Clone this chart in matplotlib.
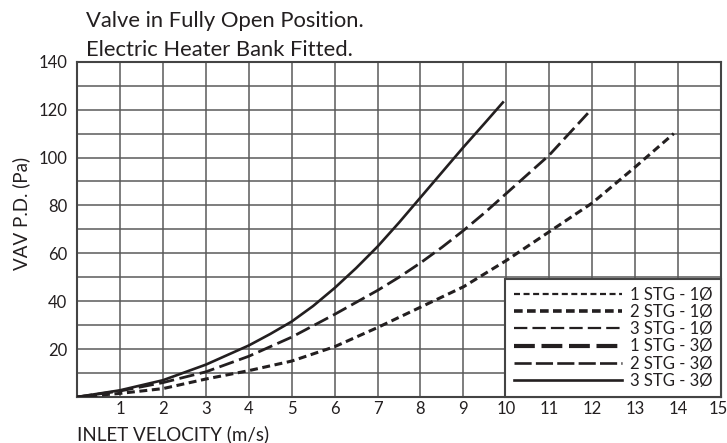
import matplotlib
matplotlib.use("Agg")
import matplotlib.pyplot as plt
from matplotlib.lines import Line2D
from matplotlib.transforms import ScaledTranslation

plt.rcParams['font.family'] = ['Lato', 'DejaVu Sans']

# ---- data ----
vel_short = [0, 1, 2, 3, 4, 5, 6, 7, 8, 9, 10, 11, 12, 13, 13.9]
pd_short = [0, 1.5, 3.5, 7.5, 11, 15, 21, 29, 37.5, 46, 57, 69, 81, 96, 110]

vel_long = [0, 1, 2, 3, 4, 5, 6, 7, 7.5, 8, 8.5, 9, 9.5, 10, 10.5, 11, 11.9]
pd_long = [0, 2.5, 6, 10.5, 17, 25, 34.5, 44.5, 50, 56, 62.5, 69.5, 77, 85, 93, 101, 118.5]

vel_solid = [0, 1, 2, 3, 4, 4.5, 5, 5.5, 6, 6.5, 7, 7.5, 8, 8.5, 9, 9.5, 9.92]
pd_solid = [0, 2.8, 7, 13.5, 21.5, 26.3, 31.5, 38, 45.5, 53.8, 62.8, 72.8, 83.3, 93.8, 104.3, 114.4, 123]

legend_labels = ["1 STG - 1Ø", "2 STG - 1Ø", "3 STG - 1Ø",
                 "1 STG - 3Ø", "2 STG - 3Ø", "3 STG - 3Ø"]
x_ticks = list(range(1, 16))
y_ticks = [20, 40, 60, 80, 100, 120, 140]

title_lines = ["Valve in Fully Open Position.", "Electric Heater Bank Fitted."]
x_label = "INLET VELOCITY (m/s)"
y_label = "VAV P.D. (Pa)"

INK = "#231f20"
GRID = "#5a5a5a"

fig = plt.figure(figsize=(7.27, 4.43), dpi=100)
ax = fig.add_axes([77/727, 1-397/443, (721-77)/727, (397-61.7)/443])

ax.set_xlim(0, 15)
ax.set_ylim(0, 140)
ax.set_xticks(range(0, 16))
ax.set_yticks(range(0, 141, 10))
ax.grid(True, color=GRID, lw=1.1, zorder=0)
ax.set_axisbelow(True)
ax.tick_params(length=0, labelsize=12, colors=INK, pad=3)
ax.set_xticklabels([str(t) if t in x_ticks else "" for t in range(0, 16)])
ax.set_yticklabels([str(t) if t in y_ticks else "" for t in range(0, 141, 10)])
ax.tick_params(axis='y', pad=7)
for lab in ax.get_xticklabels():
    if lab.get_text() == "15":
        lab.set_transform(lab.get_transform() + ScaledTranslation(-3/100, 0, fig.dpi_scale_trans))
for s in ax.spines.values():
    s.set_color("#444444")
    s.set_linewidth(1.5)

ax.plot(vel_short, pd_short, color=INK, lw=2.2, dashes=(2.6, 1.5), zorder=3)
ax.plot(vel_long, pd_long, color=INK, lw=2.0, dashes=(5.5, 2.0), zorder=3)
ax.plot(vel_solid, pd_solid, color=INK, lw=1.9, zorder=3)

styles = [dict(lw=1.6, dashes=(2.7, 1.6)),
          dict(lw=2.6, dashes=(2.4, 1.2)),
          dict(lw=1.6, dashes=(6.0, 2.3)),
          dict(lw=3.0, dashes=(5.0, 1.6)),
          dict(lw=1.9, dashes=(6.5, 1.6)),
          dict(lw=1.9)]
handles = [Line2D([], [], color=INK, **st) for st in styles]
leg = ax.legend(handles, legend_labels, loc='lower right', bbox_to_anchor=(1.0, 0.0),
                borderaxespad=0, fontsize=12, handlelength=6.5, handletextpad=0.5,
                labelspacing=0.07, borderpad=0.5, frameon=True, fancybox=False,
                labelcolor=INK)
leg.get_frame().set_edgecolor("#444444")
leg.get_frame().set_linewidth(1.5)
leg.get_frame().set_facecolor("white")
leg.get_frame().set_alpha(1)
leg.set_zorder(5)

fig.text(86/727, 1-26.7/443, title_lines[0], fontsize=15.8, color=INK, va='baseline', ha='left')
fig.text(86/727, 1-56/443, title_lines[1], fontsize=15.8, color=INK, va='baseline', ha='left')
fig.text(21/727, 1-213/443, y_label, fontsize=13.5, color=INK, rotation=90, va='center', ha='center')
fig.text(77/727, 1-440/443, x_label, fontsize=13.5, color=INK, va='baseline', ha='left')

fig.savefig("out.png", dpi=100)
